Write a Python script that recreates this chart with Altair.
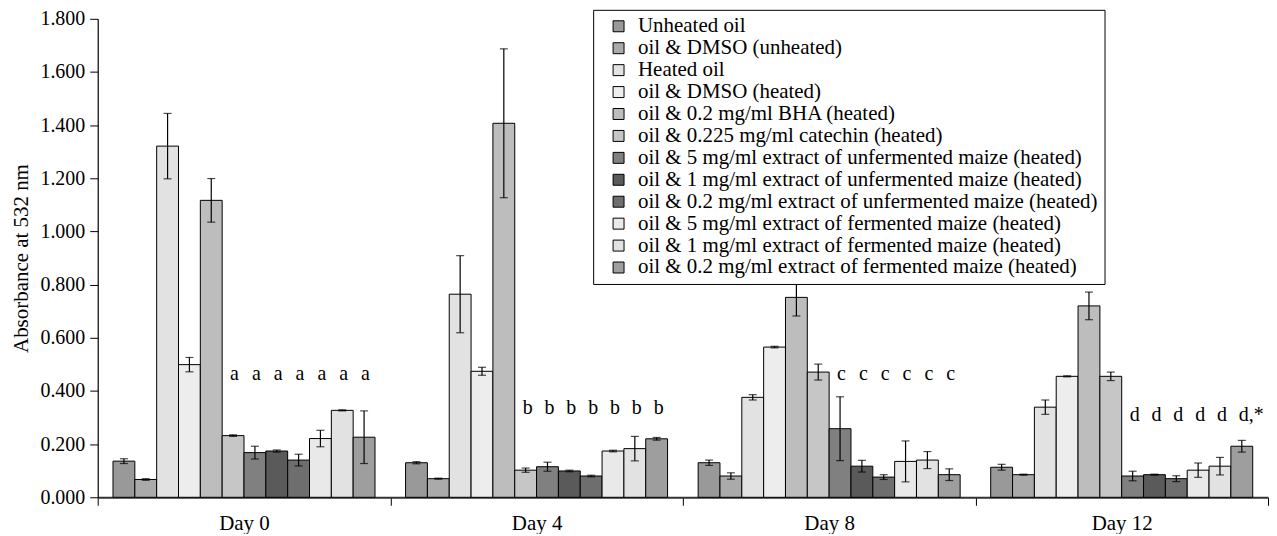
import altair as alt
import pandas as pd

days = ["Day 0", "Day 4", "Day 8", "Day 12"]
series = [
    "Unheated oil",
    "oil & DMSO (unheated)",
    "Heated oil",
    "oil & DMSO (heated)",
    "oil & 0.2 mg/ml BHA (heated)",
    "oil & 0.225 mg/ml catechin (heated)",
    "oil & 5 mg/ml extract of unfermented maize (heated)",
    "oil & 1 mg/ml extract of unfermented maize (heated)",
    "oil & 0.2 mg/ml extract of unfermented maize (heated)",
    "oil & 5 mg/ml extract of fermented maize (heated)",
    "oil & 1 mg/ml extract of fermented maize (heated)",
    "oil & 0.2 mg/ml extract of fermented maize (heated)",
]

day0 = [0.136, 0.067, 1.321, 0.499, 1.117, 0.232, 0.168, 0.174, 0.140, 0.221, 0.327, 0.226]
err0 = [0.009, 0.003, 0.123, 0.027, 0.082, 0.003, 0.024, 0.004, 0.022, 0.031, 0.002, 0.099]
day4 = [0.130, 0.070, 0.764, 0.474, 1.407, 0.102, 0.115, 0.099, 0.080, 0.174, 0.183, 0.220]
err4 = [0.004, 0.002, 0.145, 0.015, 0.280, 0.008, 0.017, 0.003, 0.003, 0.003, 0.046, 0.005]
day8 = [0.130, 0.080, 0.376, 0.565, 0.752, 0.471, 0.258, 0.117, 0.076, 0.135, 0.140, 0.085]
err8 = [0.010, 0.012, 0.010, 0.003, 0.070, 0.030, 0.120, 0.022, 0.009, 0.077, 0.032, 0.022]
day12 = [0.113, 0.085, 0.339, 0.455, 0.720, 0.455, 0.080, 0.085, 0.070, 0.102, 0.117, 0.192]
err12 = [0.011, 0.002, 0.027, 0.002, 0.052, 0.016, 0.018, 0.002, 0.011, 0.027, 0.033, 0.022]

letters0 = ["", "", "", "", "", "a", "a", "a", "a", "a", "a", "a"]
letters4 = ["", "", "", "", "", "b", "b", "b", "b", "b", "b", "b"]
letters8 = ["", "", "", "", "", "", "c", "c", "c", "c", "c", "c"]
letters12 = ["", "", "", "", "", "", "d", "d", "d", "d", "d", "d,*"]
letter_levels = [0.443, 0.313, 0.44, 0.288]

y_ticks = [0.0, 0.2, 0.4, 0.6, 0.8, 1.0, 1.2, 1.4, 1.6, 1.8]

means = [day0, day4, day8, day12]
errs = [err0, err4, err8, err12]
letters = [letters0, letters4, letters8, letters12]

rows = []
for di, d in enumerate(days):
    for si, s in enumerate(series):
        m = means[di][si]
        e = errs[di][si]
        rows.append({
            "day": d, "series": s, "value": m,
            "lo": m - e, "hi": m + e,
            "letter": letters[di][si], "ly": letter_levels[di],
        })
df = pd.DataFrame(rows)

fills = ["#999999", "#aaaaaa", "#e2e2e2", "#ededed", "#bdbdbd", "#c6c6c6",
         "#808080", "#5a5a5a", "#6e6e6e", "#e9e9e9", "#e2e2e2", "#9e9e9e"]

FONT = "Liberation Serif"

base = alt.Chart(df).encode(
    x=alt.X("day:N", sort=days,
            scale=alt.Scale(paddingInner=0, paddingOuter=0),
            axis=alt.Axis(title=None, labelAngle=0, tickBand="extent", tickSize=8,
                          tickColor="black", domainColor="#333333", domainWidth=2,
                          labelFont=FONT, labelFontSize=21, labelColor="black",
                          labelPadding=7)),
    xOffset=alt.XOffset("series:N", sort=series,
                        scale=alt.Scale(paddingInner=0, paddingOuter=0.70)),
)

bars = base.mark_bar(stroke="black", strokeWidth=1).encode(
    y=alt.Y("value:Q", scale=alt.Scale(domain=[0, 1.8], nice=False),
            axis=alt.Axis(title="Absorbance at 532 nm", values=y_ticks, format=".3f",
                          grid=False, tickSize=8, tickColor="black", domainColor="black",
                          domainWidth=1.2, labelFont=FONT, labelFontSize=20,
                          labelColor="black", labelPadding=5, titleFont=FONT,
                          titleFontSize=21, titleFontWeight="normal", titleColor="black",
                          titlePadding=8)),
    color=alt.Color("series:N", sort=series,
                    scale=alt.Scale(domain=series, range=fills),
                    legend=alt.Legend(title=None, orient="none", legendX=497, legendY=-9,
                                      symbolType="square", symbolSize=121,
                                      symbolStrokeColor="black", symbolStrokeWidth=1,
                                      labelFont=FONT, labelFontSize=21, labelColor="black",
                                      labelLimit=700, rowPadding=0, padding=6,
                                      symbolOffset=9, labelOffset=9,
                                      strokeColor="black", fillColor="white")),
)

rules = base.mark_rule(color="black", strokeWidth=1.2).encode(
    y="lo:Q", y2="hi:Q")
caps_hi = base.mark_tick(color="black", size=8, thickness=1.2).encode(y="hi:Q")
caps_lo = base.mark_tick(color="black", size=8, thickness=1.2).encode(y="lo:Q")

labels = base.transform_filter(alt.datum.letter != "").mark_text(
    align="left", baseline="alphabetic", font=FONT, fontSize=20, color="black", dx=-3
).encode(y="ly:Q", text="letter:N")

chart = alt.layer(bars, rules, caps_hi, caps_lo, labels).properties(
    width=1174, height=480,
    padding={"left": 3, "top": 0, "right": 0, "bottom": 0},
).configure_view(stroke=None)

chart.save("out.html", embed_options={"renderer": "svg", "actions": False})
